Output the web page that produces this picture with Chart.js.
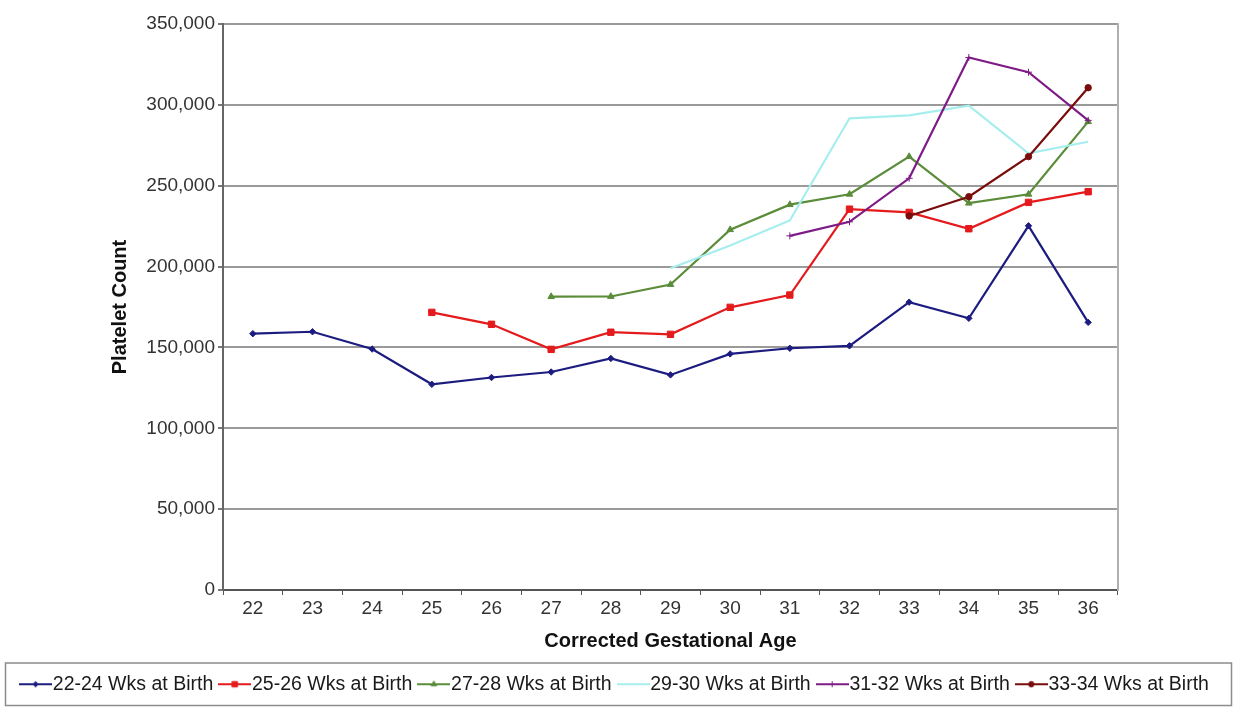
<!DOCTYPE html>
<html>
<head>
<meta charset="utf-8">
<title>Platelet Count by Corrected Gestational Age</title>
<script src="https://cdn.jsdelivr.net/npm/chart.js@4/dist/chart.umd.min.js"></script>
<style>
  html, body { margin: 0; padding: 0; background: #ffffff; }
  #wrap { width: 1237px; height: 712px; }
</style>
</head>
<body>
<div id="wrap"><canvas id="chart" width="1237" height="712"></canvas></div>
<script>
// Corrected gestational age (weeks) — x categories
const ages = ['22', '23', '24', '25', '26', '27', '28', '29', '30', '31', '32', '33', '34', '35', '36'];

// Y axis tick values
const countTicks = [0, 50000, 100000, 150000, 200000, 250000, 300000, 350000];

// Mean platelet count per cohort (gestational age at birth)
const wks22to24 = [158500, 159700, 149000, 127200, 131400, 134800, 143200, 133000, 146000, 149500, 151000, 178000, 168000, 225200, 165500];
const wks25to26 = [null, null, null, 171700, 164300, 148800, 159400, 158100, 174800, 182400, 235500, 233500, 223400, 239700, 246300];
const wks27to28 = [null, null, null, null, null, 181400, 181500, 188900, 222800, 238300, 244700, 268000, 239200, 244700, 289600];
const wks29to30 = [null, null, null, null, null, null, null, 199000, 213000, 228500, 291700, 293500, 299500, 270000, 277200];
const wks31to32 = [null, null, null, null, null, null, null, null, null, 219000, 227700, 254600, 329300, 320200, 290400];
const wks33to34 = [null, null, null, null, null, null, null, null, null, null, null, 231300, 243200, 268000, 310600];

const seriesNames = ['22-24 Wks at Birth', '25-26 Wks at Birth', '27-28 Wks at Birth',
                     '29-30 Wks at Birth', '31-32 Wks at Birth', '33-34 Wks at Birth'];
const seriesValues = [wks22to24, wks25to26, wks27to28, wks29to30, wks31to32, wks33to34];
const seriesColors = ['#1c1c80', '#e41a1c', '#5a8c3a', '#a6eeee', '#7e1b86', '#7a0c0c'];
const seriesMarkers = ['rectRot', 'rect', 'triangle', false, 'cross', 'circle'];
const seriesRadius = [3.2, 4.5, 3.8, 0, 3.5, 3.2];

const FONT = "'Liberation Sans', Arial, Helvetica, sans-serif";

// Small line-with-marker swatches for the legend
function makeSwatch(color, marker, radius) {
  const c = document.createElement('canvas');
  c.width = 33; c.height = 12;
  const ctx = c.getContext('2d');
  ctx.strokeStyle = color;
  ctx.lineWidth = 2;
  ctx.beginPath();
  ctx.moveTo(0, 6); ctx.lineTo(33, 6);
  ctx.stroke();
  if (marker && radius > 0) {
    ctx.fillStyle = color;
    ctx.strokeStyle = color;
    ctx.lineWidth = 1;
    Chart.helpers.drawPoint(ctx, { pointStyle: marker, radius: radius * 0.85, borderWidth: 1, rotation: 0 }, 16.5, 6);
  }
  return c;
}
const legendSwatches = seriesColors.map((col, i) => makeSwatch(col, seriesMarkers[i], seriesRadius[i]));

// Frame around the legend row
const legendFrame = {
  id: 'legendFrame',
  afterDraw(chart) {
    const l = chart.legend;
    if (!l) return;
    const ctx = chart.ctx;
    ctx.save();
    ctx.strokeStyle = '#8c8c8c';
    ctx.lineWidth = 1.5;
    ctx.strokeRect(l.left + 5.5, l.top + 2.5, l.width - 11, l.height - 1);
    ctx.restore();
  }
};

const datasets = seriesNames.map((name, i) => ({
  label: name,
  data: seriesValues[i],
  borderColor: seriesColors[i],
  backgroundColor: seriesColors[i],
  pointBackgroundColor: seriesColors[i],
  pointBorderColor: seriesColors[i],
  pointStyle: seriesMarkers[i],
  pointRadius: seriesRadius[i],
  pointBorderWidth: 1,
  borderWidth: 2.2,
  tension: 0,
  fill: false,
  order: seriesNames.length - 1 - i
}));

new Chart(document.getElementById('chart'), {
  type: 'line',
  data: { labels: ages, datasets: datasets },
  plugins: [legendFrame],
  options: {
    responsive: false,
    animation: false,
    events: [],
    layout: { padding: { left: 0, right: 0, top: 24, bottom: 8 } },
    plugins: {
      tooltip: { enabled: false },
      legend: {
        position: 'bottom',
        labels: {
          usePointStyle: true,
          pointStyleWidth: 15,
          padding: 14,
          color: '#1a1a1a',
          font: { family: FONT, size: 19.5 },
          generateLabels(chart) {
            const items = Chart.defaults.plugins.legend.labels.generateLabels(chart);
            items.sort((a, b) => a.datasetIndex - b.datasetIndex);
            items.forEach(it => { it.pointStyle = legendSwatches[it.datasetIndex]; });
            return items;
          }
        }
      }
    },
    scales: {
      x: {
        type: 'category',
        offset: true,
        grid: { display: true, drawOnChartArea: false, drawTicks: true, tickLength: 5, color: '#555555', offset: true },
        border: { color: '#555555', width: 2 },
        ticks: { color: '#333333', font: { family: FONT, size: 19 }, padding: 2, maxRotation: 0, autoSkip: false },
        title: {
          display: true, text: 'Corrected Gestational Age', color: '#111111',
          font: { family: FONT, size: 20, weight: 'bold' }, padding: { top: 0, bottom: 7.5 }
        },
        afterFit(scale) { scale.height = 70.5; }
      },
      y: {
        min: 0,
        max: 350000,
        afterBuildTicks(scale) { scale.ticks = countTicks.map(v => ({ value: v })); },
        ticks: {
          color: '#333333', font: { family: FONT, size: 19 }, padding: 3,
          callback: v => v.toLocaleString('en-US')
        },
        grid: { color: '#9a9a9a', lineWidth: 2, tickLength: 5, tickColor: '#777777' },
        border: { color: '#666666', width: 2 },
        title: {
          display: true, text: 'Platelet Count', color: '#111111',
          font: { family: FONT, size: 20, weight: 'bold' }, padding: { top: 108, bottom: 0 }
        },
        afterFit(scale) { scale.width = 223; }
      },
      frameRight: {
        position: 'right',
        min: 0,
        max: 1,
        grid: { display: false, drawOnChartArea: false },
        ticks: { display: false },
        border: { display: true, color: '#b0b0b0', width: 2 },
        afterFit(scale) { scale.width = 119; }
      }
    }
  }
});
</script>
</body>
</html>
